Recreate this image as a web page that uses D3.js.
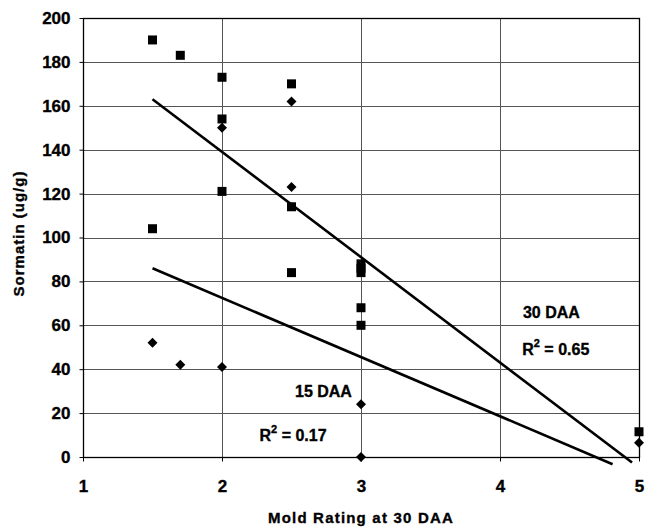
<!DOCTYPE html>
<html>
<head>
<meta charset="utf-8">
<script src="https://cdn.jsdelivr.net/npm/d3@7"></script>
<style>
  html, body { margin: 0; padding: 0; background: #fff; }
  svg { display: block; }
  text { font-family: "Liberation Sans", Arial, sans-serif; font-weight: bold; fill: #000; stroke: #000; stroke-width: 0.35px; }
</style>
</head>
<body>
<script>
// ---- data ----
const xTicks = [1, 2, 3, 4, 5];
const yTicks = [0, 20, 40, 60, 80, 100, 120, 140, 160, 180, 200];

// 30 DAA (squares)
const dai30X = [1.5, 1.7, 2, 2, 2, 2.5, 2.5, 2.5, 1.5, 3, 3, 3, 3, 3, 5];
const dai30Y = [190, 183, 173, 154, 121, 170, 114, 84, 104, 88, 86, 84, 68, 60, 11.5];

// 15 DAA (diamonds)
const dai15X = [1.5, 1.7, 2, 2, 2.5, 2.5, 3, 3, 5];
const dai15Y = [52, 42, 41, 150, 162, 123, 24, 0, 6.5];

// trend line endpoints
const trend30X = [1.5, 4.95];
const trend30Y = [163, -2.5];
const trend15X = [1.5, 4.81];
const trend15Y = [86, -3.3];

const labels = [
  { text: "30 DAA", x: 4.37, y: 66 },
  { text: "15 DAA", x: 2.73, y: 30 }
];
const r2Labels = [
  { value: "0.65", x: 4.16, y: 49 },
  { value: "0.17", x: 2.27, y: 10 }
];

// ---- layout ----
const W = 646, H = 529;
const m = { left: 83, right: 7, top: 18, bottom: 72 };

const svg = d3.select("body").append("svg").attr("width", W).attr("height", H);

const x = d3.scaleLinear().domain([1, 5]).range([m.left, W - m.right]);
const y = d3.scaleLinear().domain([0, 200]).range([H - m.bottom, m.top]);

// grid
const grid = svg.append("g");
grid.selectAll(".hg").data(yTicks).join("line")
  .attr("x1", x(1)).attr("x2", x(5))
  .attr("y1", d => Math.round(y(d)) + 0.5).attr("y2", d => Math.round(y(d)) + 0.5)
  .attr("stroke", "#555").attr("stroke-width", 1);
grid.selectAll(".vg").data(xTicks).join("line")
  .attr("y1", y(0)).attr("y2", y(200))
  .attr("x1", d => Math.round(x(d)) + 0.5).attr("x2", d => Math.round(x(d)) + 0.5)
  .attr("stroke", "#555").attr("stroke-width", 1);

// frame
svg.append("rect")
  .attr("x", Math.round(x(1)) + 0.5).attr("y", Math.round(y(200)) + 0.5)
  .attr("width", Math.round(x(5)) - Math.round(x(1)))
  .attr("height", Math.round(y(0)) - Math.round(y(200)))
  .attr("fill", "none").attr("stroke", "#000").attr("stroke-width", 1.3);

// axes
const yAxis = d3.axisLeft(y).tickValues(yTicks).tickSize(4).tickPadding(9);
const gy = svg.append("g").attr("transform", `translate(${Math.round(x(1)) + 0.5},0)`).call(yAxis);
gy.select(".domain").remove();
gy.selectAll("text").style("font-size", "17px").style("font-family", "'Liberation Sans', Arial, sans-serif").style("font-weight", "bold").attr("fill", "#000");
gy.selectAll("line").attr("stroke", "#000");

const xAxis = d3.axisBottom(x).tickValues(xTicks).tickFormat(d3.format("d")).tickSize(4).tickPadding(18);
const gx = svg.append("g").attr("transform", `translate(0,${Math.round(y(0)) + 0.5})`).call(xAxis);
gx.select(".domain").remove();
gx.selectAll("text").style("font-size", "17px").style("font-family", "'Liberation Sans', Arial, sans-serif").style("font-weight", "bold").attr("fill", "#000");
gx.selectAll("line").attr("stroke", "#000");

// axis titles
svg.append("text")
  .attr("x", (x(1) + x(5)) / 2).attr("y", 523)
  .attr("text-anchor", "middle")
  .style("font-size", "15px").style("letter-spacing", "1.2px")
  .text("Mold Rating at 30 DAA");

svg.append("text")
  .attr("transform", `translate(24,${(y(0) + y(200)) / 2 - 4}) rotate(-90)`)
  .attr("text-anchor", "middle")
  .style("font-size", "15px").style("letter-spacing", "1px")
  .text("Sormatin (ug/g)");

// trend lines
const line = d3.line().x(d => x(d[0])).y(d => y(d[1]));
svg.append("path").datum(d3.zip(trend30X, trend30Y)).attr("d", line)
  .attr("fill", "none").attr("stroke", "#000").attr("stroke-width", 2.6);
svg.append("path").datum(d3.zip(trend15X, trend15Y)).attr("d", line)
  .attr("fill", "none").attr("stroke", "#000").attr("stroke-width", 2.6);

// markers
const sq = d3.symbol().type(d3.symbolSquare).size(81);
svg.append("g").selectAll("path").data(d3.zip(dai30X, dai30Y)).join("path")
  .attr("d", sq).attr("transform", d => `translate(${x(d[0])},${y(d[1])})`)
  .attr("fill", "#000");

const dm = d3.symbol().type(d3.symbolDiamond2).size(64);
svg.append("g").selectAll("path").data(d3.zip(dai15X, dai15Y)).join("path")
  .attr("d", dm).attr("transform", d => `translate(${x(d[0])},${y(d[1])})`)
  .attr("fill", "#000");

// annotations
svg.append("g").selectAll("text").data(labels).join("text")
  .attr("x", d => x(d.x)).attr("y", d => y(d.y) + 6)
  .attr("text-anchor", "middle")
  .style("font-size", "16px")
  .text(d => d.text);

const r2 = svg.append("g").selectAll("text").data(r2Labels).join("text")
  .attr("x", d => x(d.x)).attr("y", d => y(d.y) + 6)
  .attr("text-anchor", "start")
  .style("font-size", "16px");
r2.append("tspan").text("R");
r2.append("tspan").attr("dy", -8).style("font-size", "11px").text("2");
r2.append("tspan").attr("dy", 8).text(d => " = " + d.value);
</script>
</body>
</html>
